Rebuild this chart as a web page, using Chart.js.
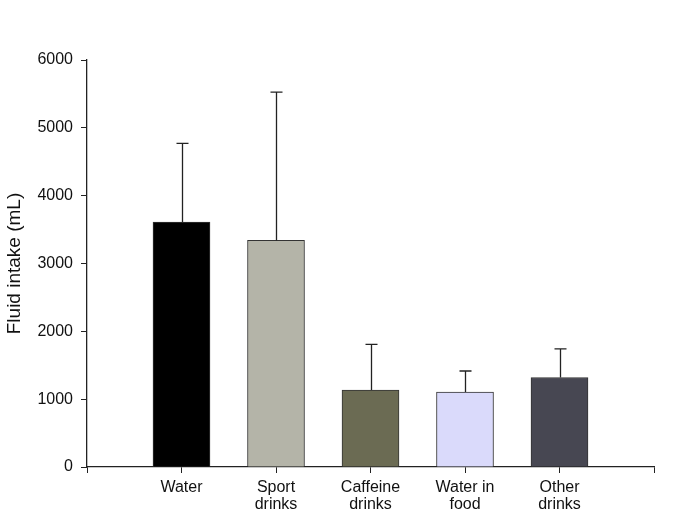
<!DOCTYPE html>
<html>
<head>
<meta charset="utf-8">
<script src="https://cdn.jsdelivr.net/npm/chart.js@4/dist/chart.umd.min.js"></script>
<style>
  html, body { margin: 0; padding: 0; background: #fff; }
  #wrap { width: 685px; height: 516px; }
</style>
</head>
<body>
<div id="wrap"><canvas id="fluid_chart" width="685" height="516"></canvas></div>
<script>
// categories (blank slots at both ends keep the axis ticks at the plot edges)
var categories = ['', 'Water', ['Sport', 'drinks'], ['Caffeine', 'drinks'], ['Water in', 'food'], ['Other', 'drinks'], ''];
var means = [null, 3610, 3340, 1135, 1105, 1320, null];
var sdUpper = [null, 4770, 5525, 1808, 1415, 1740, null];
var barColors = ['#000000', '#000000', '#b4b4a8', '#6b6b53', '#dadafb', '#474752', '#000000'];
var yTicks = [0, 1000, 2000, 3000, 4000, 5000, 6000];

var fontFamily = '"Liberation Sans", Arial, sans-serif';

// draws the upper error bar with a small cap over each bar
var errorBars = {
  id: 'errorBars',
  afterDatasetsDraw: function(chart) {
    var ctx = chart.ctx;
    var x = chart.scales.x, y = chart.scales.y;
    ctx.save();
    ctx.strokeStyle = '#222';
    ctx.lineWidth = 1.3;
    for (var i = 0; i < sdUpper.length; i++) {
      if (sdUpper[i] == null) continue;
      var px = Math.round(x.getPixelForValue(i)) + 0.5;
      var top = y.getPixelForValue(sdUpper[i]);
      var base = y.getPixelForValue(means[i]);
      ctx.beginPath();
      ctx.moveTo(px, base);
      ctx.lineTo(px, top);
      ctx.moveTo(px - 6, top);
      ctx.lineTo(px + 6, top);
      ctx.stroke();
    }
    ctx.restore();
  }
};

var chart = new Chart(document.getElementById('fluid_chart'), {
  type: 'bar',
  data: {
    labels: categories,
    datasets: [{
      data: means,
      backgroundColor: barColors,
      borderColor: '#333',
      borderWidth: 1,
      barThickness: 57
    }]
  },
  options: {
    responsive: false,
    animation: false,
    layout: { padding: { top: 60, right: 31, left: 3, bottom: 0 } },
    plugins: { legend: { display: false }, tooltip: { enabled: false } },
    scales: {
      x: {
        offset: false,
        grid: { drawOnChartArea: false, drawTicks: true, tickLength: 6, color: '#222', offset: false },
        border: { color: '#222', width: 1.3 },
        ticks: {
          color: '#111',
          font: { family: fontFamily, size: 16, lineHeight: 1.05 },
          padding: 6,
          maxRotation: 0,
          autoSkip: false
        },
        afterFit: function(s) { s.height = 49; }
      },
      y: {
        min: 0,
        max: 6000,
        afterBuildTicks: function(s) { s.ticks = yTicks.map(function(v) { return { value: v }; }); },
        grid: { drawOnChartArea: false, drawTicks: true, tickLength: 6, color: '#222' },
        border: { color: '#222', width: 1.3 },
        ticks: {
          color: '#111',
          font: { family: fontFamily, size: 16 },
          padding: 8,
          callback: function(v) { return String(v); }
        },
        title: {
          display: true,
          text: 'Fluid intake (mL)',
          color: '#111',
          font: { family: fontFamily, size: 19 },
          padding: { top: 0, bottom: 0 }
        },
        afterFit: function(s) { s.width = 84; }
      }
    }
  },
  plugins: [errorBars]
});
</script>
</body>
</html>
